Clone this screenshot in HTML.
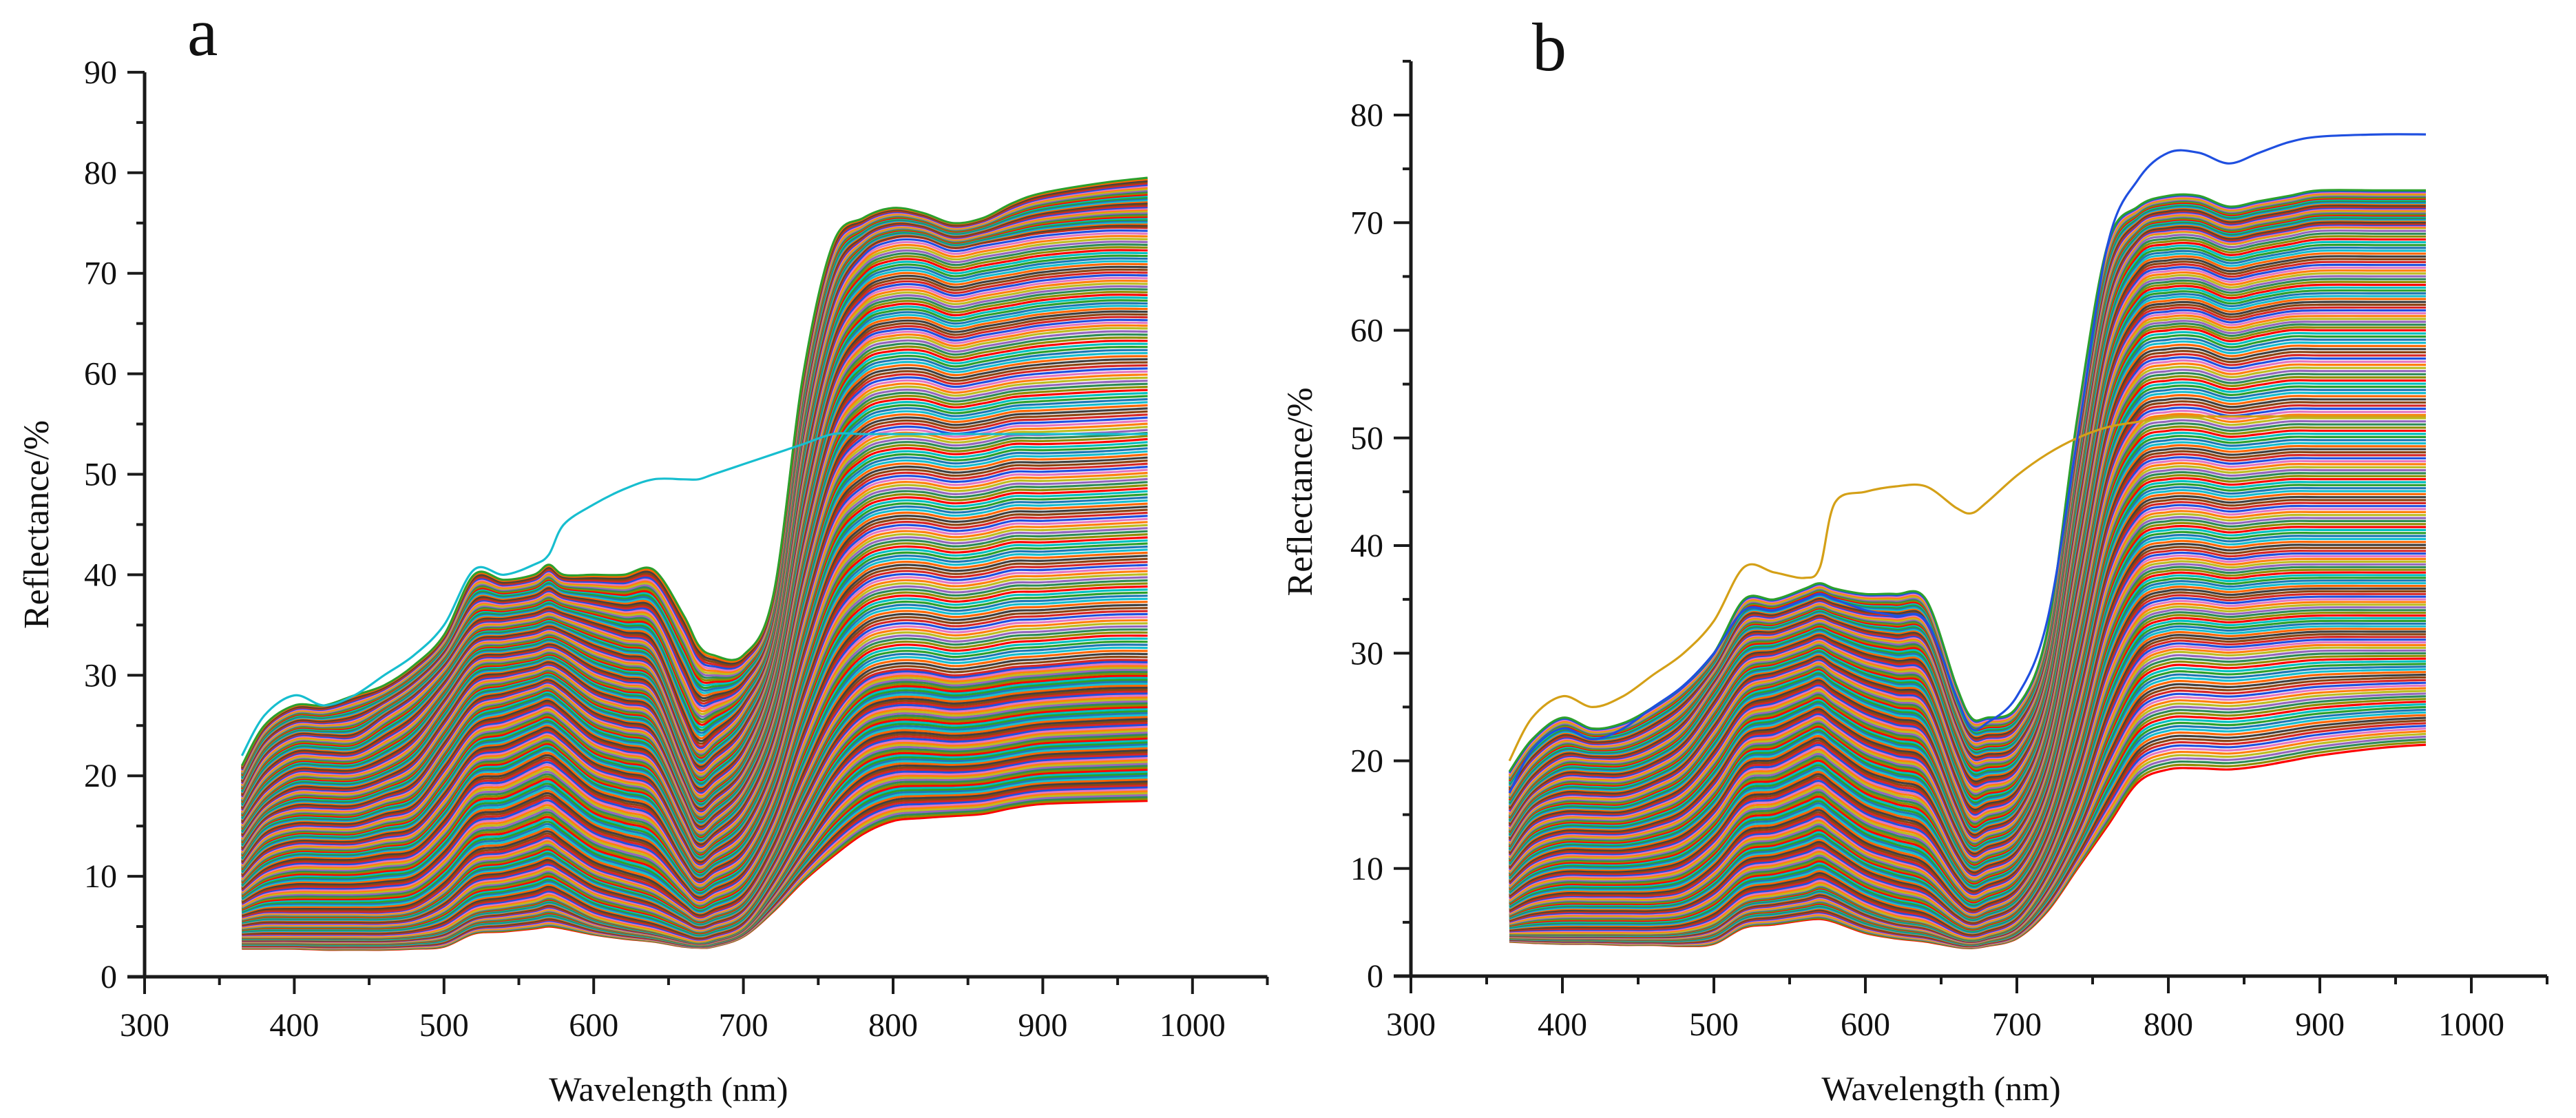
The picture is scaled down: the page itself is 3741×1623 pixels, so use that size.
<!DOCTYPE html>
<html><head><meta charset="utf-8"><style>
html,body{margin:0;padding:0;background:#fff;}
svg{display:block;}
text{font-family:"Liberation Serif",serif;fill:#111;}
</style></head><body>
<svg id="chart" width="3741" height="1623" viewBox="0 0 3741 1623" xmlns="http://www.w3.org/2000/svg">
<g id="gA"></g>
<g id="gB"></g>
</svg>
<script>
const wavelengths=[365,380,400,420,440,460,480,500,520,540,560,570,580,600,620,640,660,670,680,700,720,740,760,780,800,820,840,860,880,900,940,970];
const curvesA=[
[2.8,2.8,2.8,2.7,2.7,2.7,2.8,3,4.3,4.5,4.8,5,4.8,4.2,3.8,3.5,3,2.9,3,4,6.5,9.5,12,14.2,15.5,15.8,16,16.2,16.8,17.2,17.4,17.5],
[4,4,4,4,4,4,4.2,4.8,6.5,7,7.5,8,7.5,6,5.2,4.6,3.8,3.5,3.8,5,9,14,19,22,23,23,22.8,23,23.5,24,24.3,24.5],
[6,6.5,6.5,6.5,6.5,6.5,7,9,12,12.5,13.5,14,13,11,10,9,7,6,6.5,8,13,20,26,29.5,30.5,30.5,30,30.3,30.8,31,31.5,31.5],
[9,11,12,12,12,12.5,13,16,20,20.5,22,22.5,21.5,19,18,17,12,10,11,13,19,29,37,40.5,41.5,41.5,41,41.3,42,42,42.3,42.5],
[12,15,16,16,16,17,18,22,26,27,28,28.5,27.5,25,24,23,17,14,15,18,25,38,48,51.5,52.5,52.5,52,52.3,53,53,53.2,53.5],
[15,18,20,20,20,21,23,27,31,31.5,32,32.5,32,30,29,28,21,18,19,22,30,46,58,62.5,63.5,63.5,62.5,63,63.5,64,64.5,64.5],
[18,22,24,24,24,26,28,31,35,35.5,36,36.5,36,35,34,33,26,23,24,27,34,54,67,72,73.5,73.5,72.5,73,73.5,74,74.5,74.5],
[21,25,27,27,28,29,31,34,40,39.5,40,41,40,40,40,40.5,36,33,32,32,38,60,73,75.5,76.5,76,75,75.5,77,78,79,79.5]];
const outlierA=[22,26,28,27,28,30,32,35,40.5,40,41,42,45,47,48.5,49.5,49.5,49.5,50,51,52,53,54,54,54,54,54,54,54,54,54,54];
const curvesB=[
[3.2,3.1,3,3,2.9,2.9,2.8,3,4.5,4.8,5.2,5.3,5,4,3.5,3.2,2.7,2.6,2.8,3.5,6,10,14,18,19.2,19.3,19.2,19.5,20,20.5,21.2,21.5],
[4,4,4,4,4,4,4.2,5,7,7.5,8,8.5,8,6.5,5.5,5,3.8,3.5,3.8,5,9,15,23,28.5,30,30,29.8,30,30.3,30.5,30.5,30.5],
[6,7,7.5,7.5,7.5,7.5,8,10,13,13.5,14.5,15,14,12,11,10,7,6,6.5,8,13,22,33,38.5,39.5,39.5,39,39.3,39.5,39.5,39.5,39.5],
[9,11,12,12,12,12.5,13.5,16,20,20.5,22,22.5,21.5,19.5,18.5,17.5,12,10,10.5,12,18,30,43,48.5,49.5,49.5,49,49.2,49.5,49.5,49.5,49.5],
[12,15,16,16,16,17,18.5,22,26,27,28,28.5,27.5,26,25,24,17,14,14.5,16,23,38,53,59,60,60,59,59.5,60,60,60,60],
[15,18,20,20,20,21,23,27,31,31.5,32.5,33,32.5,31.5,31,30.5,23,20,20,21,28,46,62,68,69,69,68,68.5,69,69.5,69.5,69.5],
[19,22,24,23,23.5,25,27,30,35,35,36,36.5,36,35.5,35.5,35,27,24,24,25,32,52,68,71.5,72.5,72.5,71.5,72,72.5,73,73,73]];
const outlierB1=[20,24,26,25,26,28,30,33,38,37.5,37,38,44,45,45.5,45.5,43.5,43,44,46.5,48.5,50,51,51.5,52,52,52,52,52,52,52,52];
const outlierB2=[17,21,23,22,23,25,27,30,34,34,35,35.5,35,34,33.5,33,26,23,23.5,26,33,50,68,74,76.5,76.5,75.5,76.5,77.5,78,78.2,78.2];
const ticksA=[0,10,20,30,40,50,60,70,80,90];
const ticksB=[0,10,20,30,40,50,60,70,80];
const ticksX=[300,400,500,600,700,800,900,1000];

const palette=['#ff0000','#1f4fe0','#2ca02c','#ff7f0e','#17becf','#9467bd','#404040','#8c8c00','#d62728','#00bfbf','#e377c2','#1f77b4','#bcbd22','#ff6600','#2e8b57','#8b4513'];
const NS='http://www.w3.org/2000/svg';
function mk(parent,tag,attrs){const e=document.createElementNS(NS,tag);for(const k in attrs)e.setAttribute(k,attrs[k]);parent.appendChild(e);return e;}
function smoothPath(pts){let d='M'+pts[0][0].toFixed(1)+','+pts[0][1].toFixed(1);
 for(let i=0;i<pts.length-1;i++){const p0=pts[i-1]||pts[i],p1=pts[i],p2=pts[i+1],p3=pts[i+2]||p2;
  const c1x=p1[0]+(p2[0]-p0[0])/6,c1y=p1[1]+(p2[1]-p0[1])/6,c2x=p2[0]-(p3[0]-p1[0])/6,c2y=p2[1]-(p3[1]-p1[1])/6;
  d+='C'+c1x.toFixed(1)+','+c1y.toFixed(1)+' '+c2x.toFixed(1)+','+c2y.toFixed(1)+' '+p2[0].toFixed(1)+','+p2[1].toFixed(1);}
 return d;}

function panel(g,cfg){
 const xs=w=>cfg.x0+(w-300)*cfg.kx, ys=v=>cfg.y0-v*cfg.ky;
 const lines=mk(g,'g',{});
 
 
 let ci=0;
 const reps=cfg.curves;
 const steps=36;
 for(let r=0;r<reps.length-1;r++){
  for(let s=0;s<steps;s++){
   const t=s/steps;
   const pts=wavelengths.map((w,i)=>[xs(w),ys(reps[r][i]*(1-t)+reps[r+1][i]*t)]);
   const p=mk(lines,'path',{d:smoothPath(pts),fill:'none',stroke:palette[(ci*7)%palette.length],'stroke-width':3.2});
   
   
   ci++;
  }
 }
 const last=reps[reps.length-1];
 const pl=mk(lines,'path',{d:smoothPath(wavelengths.map((w,i)=>[xs(w),ys(last[i])])),fill:'none',stroke:'#2ca02c','stroke-width':3.2});
 
 
 cfg.outliers.forEach((o,k)=>{
  const p=mk(lines,'path',{d:smoothPath(wavelengths.map((w,i)=>[xs(w),ys(o[i])])),fill:'none',stroke:cfg.outColors[k],'stroke-width':3.2});
  
  
 });
 const ax=mk(g,'g',{stroke:'#1a1a1a','stroke-width':5,fill:'none'});
 
 
 const yl=mk(ax,'line',{x1:cfg.x0,y1:cfg.y0,x2:cfg.x0,y2:ys(cfg.ymax)});
 
 
 const xl=mk(ax,'line',{x1:cfg.x0-25,y1:cfg.y0,x2:xs(1050),y2:cfg.y0});
 
 
 for(let v=0;v<=cfg.ymax;v+=5){const major=v%10===0;mk(ax,'line',{x1:cfg.x0-(major?25:12),y1:ys(v),x2:cfg.x0,y2:ys(v),'stroke-width':4});}
 for(let w=300;w<=1050;w+=50){const major=w%100===0;mk(ax,'line',{x1:xs(w),y1:cfg.y0,x2:xs(w),y2:cfg.y0+(major?25:12),'stroke-width':4});}
 cfg.yticks.forEach(v=>{const t=mk(g,'text',{x:cfg.x0-40,y:ys(v)+16,'text-anchor':'end','font-size':48});t.textContent=v;
  });
 ticksX.forEach(w=>{const t=mk(g,'text',{x:xs(w),y:cfg.y0+86,'text-anchor':'middle','font-size':48});t.textContent=w;
  });
 const xt=mk(g,'text',{x:xs(650),y:cfg.y0+180,'text-anchor':'middle','font-size':50});xt.textContent='Wavelength (nm)';
 
 const yt=mk(g,'text',{x:0,y:0,'text-anchor':'middle','font-size':52,transform:'translate('+cfg.ytx+','+ys(45)+') rotate(-90)'});yt.textContent='Reflectance/%';
 
 const pt=mk(g,'text',{x:cfg.lx,y:cfg.ly,'font-size':100});pt.textContent=cfg.label;
 
}
panel(document.getElementById('gA'),{x0:210,y0:1418,kx:2.174,ky:14.59,ymax:90,yticks:ticksA,curves:curvesA,outliers:[outlierA],outColors:['#17becf'],ytx:70,lx:272,ly:80,label:'a'});
panel(document.getElementById('gB'),{x0:2049,y0:1417,kx:2.2,ky:15.625,ymax:85,yticks:ticksB,curves:curvesB,outliers:[outlierB1,outlierB2],outColors:['#d4a017','#1f4fe0'],ytx:1905,lx:2225,ly:102,label:'b'});
</script>
</body></html>
